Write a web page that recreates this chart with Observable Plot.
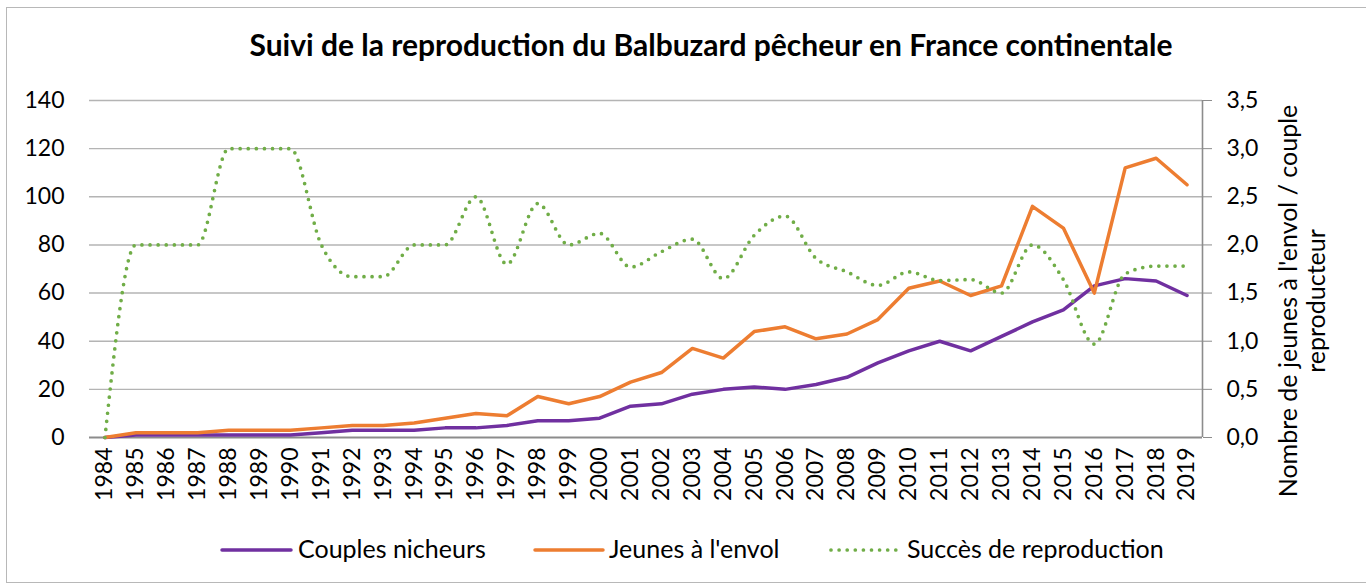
<!DOCTYPE html>
<html>
<head>
<meta charset="utf-8">
<script src="https://cdn.jsdelivr.net/npm/d3@7"></script>
<script src="https://cdn.jsdelivr.net/npm/@observablehq/plot@0.6"></script>
<style>
  html, body { margin: 0; padding: 0; background: #fff; }
  #chart { width: 1366px; height: 585px; overflow: hidden; }
</style>
</head>
<body>
<div id="chart"></div>
<script>
const years = [1984,1985,1986,1987,1988,1989,1990,1991,1992,1993,1994,1995,1996,1997,1998,1999,2000,2001,2002,2003,2004,2005,2006,2007,2008,2009,2010,2011,2012,2013,2014,2015,2016,2017,2018,2019];
const couples = [0,1,1,1,1,1,1,2,3,3,3,4,4,5,7,7,8,13,14,18,20,21,20,22,25,31,36,40,36,42,48,53,63,66,65,59];
const jeunes  = [0,2,2,2,3,3,3,4,5,5,6,8,10,9,17,14,17,23,27,37,33,44,46,41,43,49,62,65,59,63,96,87,60,112,116,105];
const succes  = [0,2.0,2.0,2.0,3.0,3.0,3.0,2.0,1.67,1.67,2.0,2.0,2.5,1.8,2.43,2.0,2.12,1.77,1.93,2.06,1.65,2.1,2.3,1.86,1.72,1.58,1.72,1.63,1.64,1.5,2.0,1.64,0.97,1.7,1.78,1.78];
const leftTicks  = [0,20,40,60,80,100,120,140];
const rightTicks = [0,0.5,1.0,1.5,2.0,2.5,3.0,3.5];
const seriesNames = ["Couples nicheurs","Jeunes à l'envol","Succès de reproduction"];
const titleText = "Suivi de la reproduction du Balbuzard pêcheur en France continentale";
const rightTitle = ["Nombre de jeunes à l'envol / couple","reproducteur"];

const RATIO = 140 / 3.5; // right axis mapped onto left scale
const data = years.map((y, i) => ({year: y, couples: couples[i], jeunes: jeunes[i], succes: succes[i]}));

const FONT = "Lato, 'Open Sans', sans-serif";
const colors = ["#7030A0", "#ED7D31", "#70AD47"];

const plot = Plot.plot({
  width: 1366,
  height: 585,
  marginLeft: 89,
  marginRight: 164,
  marginTop: 100,
  marginBottom: 148,
  x: {domain: [1983.5, 2019.5]},
  y: {domain: [0, 140]},
  style: {fontFamily: FONT, fontSize: "23px", color: "#000", background: "#fff", overflow: "visible"},
  marks: [
    Plot.gridY(leftTicks.slice(1), {stroke: "#b4b4b4", strokeOpacity: 1, strokeWidth: 1.4}),
    Plot.ruleY([0], {stroke: "#8c8c8c", strokeWidth: 2}),
    Plot.ruleX([2019.5], {y1: 0, y2: 140, stroke: "#8c8c8c", strokeWidth: 1.6}),
    Plot.axisY(leftTicks, {anchor: "left", tickSize: 0, tickPadding: 25, label: null, fill: "#000"}),
    Plot.axisY(rightTicks.map(v => v * RATIO), {
      anchor: "right", tickSize: 9, tickPadding: 15, label: null,
      stroke: "#8c8c8c", fill: "#000",
      tickFormat: d => (d / RATIO).toFixed(1).replace(".", ",")
    }),
    Plot.axisX(years, {anchor: "bottom", tickSize: 0, tickPadding: 10, tickRotate: -90, label: null,
      tickFormat: d => String(d), fill: "#000"}),
    Plot.line(data, {x: "year", y: "couples", stroke: colors[0], strokeWidth: 3.5, strokeLinejoin: "round"}),
    Plot.line(data, {x: "year", y: "jeunes", stroke: colors[1], strokeWidth: 3.5, strokeLinejoin: "round"}),
    Plot.line(data, {x: "year", y: d => d.succes * RATIO, stroke: colors[2], strokeWidth: 3.7,
      strokeDasharray: "0 8.1", strokeLinecap: "round", curve: "monotone-x"})
  ]
});

document.getElementById("chart").appendChild(plot);

const svg = d3.select(plot);

// outer chart border
svg.append("rect")
  .attr("x", 6.5).attr("y", 7.5).attr("width", 1400).attr("height", 575)
  .attr("fill", "none").attr("stroke", "#b8b8b8").attr("stroke-width", 1);

// title
svg.append("text")
  .attr("x", 711).attr("y", 56)
  .attr("text-anchor", "middle")
  .attr("font-family", FONT).attr("font-weight", "bold").attr("font-size", 30)
  .attr("fill", "#000")
  .text(titleText);

// right axis title (two lines, rotated)
const rt = svg.append("text")
  .attr("transform", "translate(1297,301) rotate(-90)")
  .attr("text-anchor", "middle")
  .attr("font-family", FONT).attr("font-size", 25).attr("fill", "#000");
rt.append("tspan").attr("x", 0).attr("y", 0).text(rightTitle[0]);
rt.append("tspan").attr("x", 0).attr("y", 28).text(rightTitle[1]);

// legend
const legendItems = [
  {x1: 222, x2: 291, tx: 298, dash: null},
  {x1: 535, x2: 603, tx: 609, dash: null},
  {x1: 831, x2: 899, tx: 907, dash: "0 8.1"}
];
const ly = 550;
legendItems.forEach((it, i) => {
  const ln = svg.append("line")
    .attr("x1", it.x1).attr("x2", it.x2).attr("y1", ly).attr("y2", ly)
    .attr("stroke", colors[i]).attr("stroke-width", it.dash ? 3.7 : 3.5)
    .attr("stroke-linecap", "round");
  if (it.dash) ln.attr("stroke-dasharray", it.dash);
  svg.append("text")
    .attr("x", it.tx).attr("y", ly + 8)
    .attr("text-anchor", "start")
    .attr("font-family", FONT).attr("font-size", 25).attr("fill", "#000")
    .text(seriesNames[i]);
});
</script>
</body>
</html>
